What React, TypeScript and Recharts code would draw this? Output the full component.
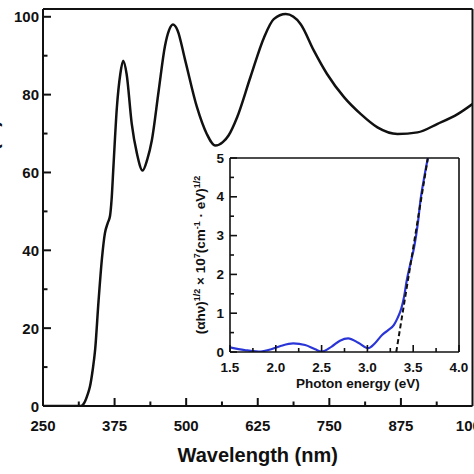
import React from 'react';
import { LineChart, Line, XAxis, YAxis, CartesianGrid } from 'recharts';

// main spectrum
const wavelength = [250, 300, 316, 322, 328, 332, 337, 341, 347, 353, 358, 363, 367, 370, 373, 379, 385, 390, 396, 405, 414, 424, 432, 440, 452, 463, 470, 477, 485, 498, 519, 536, 551, 564, 574, 589, 612, 636, 653, 674, 700, 723, 746, 776, 805, 834, 869, 904, 939, 974, 1000];
const transmittance = [0, 0, 0, 0.8, 3, 5, 9.5, 14.4, 27, 38, 44.3, 47, 48.8, 53.5, 61.5, 76.7, 85.3, 88.7, 85.3, 72.5, 64.9, 60.5, 63.3, 68.2, 81, 92.5, 96.5, 98, 96.5, 89, 76.7, 69.9, 66.9, 67.8, 69.5, 74.2, 84.4, 94.7, 99.4, 100.7, 98.1, 91.3, 85.3, 79.3, 75, 71.6, 69.9, 70.3, 72.5, 75, 77.6];
const wavelengthTicks = [250, 312.5, 375, 437.5, 500, 562.5, 625, 687.5, 750, 812.5, 875, 937.5, 1000];
const wavelengthLabels = [250, 375, 500, 625, 750, 875, 1000];
const transmittanceTicks = [0, 10, 20, 30, 40, 50, 60, 70, 80, 90, 100, 102];
const transmittanceLabels = [0, 20, 40, 60, 80, 100];

// inset (Tauc plot)
const photonEnergy = [1.5, 1.66, 1.81, 1.95, 2.06, 2.19, 2.32, 2.43, 2.5, 2.61, 2.7, 2.79, 2.9, 3.01, 3.08, 3.16, 3.23, 3.29, 3.33, 3.37, 3.4, 3.43, 3.47, 3.51, 3.55, 3.58, 3.62, 3.66];
const taucValue = [0.12, 0.05, 0.01, 0.07, 0.16, 0.22, 0.18, 0.07, 0.01, 0.14, 0.29, 0.35, 0.24, 0.1, 0.22, 0.44, 0.57, 0.7, 0.88, 1.12, 1.42, 1.85, 2.28, 2.7, 3.3, 3.92, 4.5, 5.0];
const fitEnergy = [3.315, 3.66];
const fitValue = [0, 5];
const energyTicks = [1.5, 1.75, 2, 2.25, 2.5, 2.75, 3, 3.25, 3.5, 3.75, 4];
const energyLabels = [1.5, 2, 2.5, 3, 3.5, 4];
const taucTicks = [0, 0.5, 1, 1.5, 2, 2.5, 3, 3.5, 4, 4.5, 5];
const taucLabels = [0, 1, 2, 3, 4, 5];

const spectrum = wavelength.map((w, i) => ({ w, t: transmittance[i] }));
const tauc = photonEnergy.map((e, i) => ({ e, v: taucValue[i] }));
const fit = fitEnergy.map((e, i) => ({ e, v: fitValue[i] }));

const FONT = '"Liberation Sans", Arial, sans-serif';
const INK = '#111';

// main plot box: margin top 9, y-axis width 43, right margin 1.5, x-axis height 68
const W = 474;
const MAIN_TOP = 9;
const MAIN_LEFT = 43;
const MAIN_RIGHT = 1.5;
const MAIN_XAXIS_H = 68;
const PLOT_W = W - MAIN_LEFT - MAIN_RIGHT;
const PLOT_H = W - MAIN_TOP - MAIN_XAXIS_H;

// top and right edges of a plot box
const topEdge = ({ offset }: any) => [offset.top];
const rightEdge = ({ offset }: any) => [offset.left + offset.width];

const MainXTick = (props: any) => {
  const { x, y, payload } = props;
  const major = wavelengthLabels.includes(payload.value);
  const last = payload.value === 1000;
  return (
    <g>
      {last
        ? <line x1={x} x2={x} y1={y} y2={y - PLOT_H} stroke={INK} strokeWidth={2} />
        : <line x1={x} x2={x} y1={y} y2={y - (major ? 8 : 4.5)} stroke={INK} strokeWidth={2} />}
      {major && (
        <text x={x} y={y + 25} textAnchor="middle" fontFamily={FONT} fontWeight="bold" fontSize={15} fill={INK}>
          {payload.value}
        </text>
      )}
    </g>
  );
};

const MainYTick = (props: any) => {
  const { x, y, payload } = props;
  if (payload.value === 102) {
    // top edge of the frame
    return <line x1={x} x2={x + PLOT_W} y1={y} y2={y} stroke={INK} strokeWidth={2} />;
  }
  const major = transmittanceLabels.includes(payload.value);
  return (
    <g>
      <line x1={x} x2={x + (major ? 8 : 4.5)} y1={y} y2={y} stroke={INK} strokeWidth={2} />
      {major && (
        <text x={x - 4} y={y + 5.5} textAnchor="end" fontFamily={FONT} fontWeight="bold" fontSize={15} fill={INK}>
          {payload.value}
        </text>
      )}
    </g>
  );
};

const InsetXTick = (props: any) => {
  const { x, y, payload } = props;
  const major = energyLabels.includes(payload.value);
  return (
    <g>
      <line x1={x} x2={x} y1={y} y2={y - (major ? 7 : 4)} stroke={INK} strokeWidth={1.6} />
      {major && (
        <text x={x} y={y + 19.5} textAnchor="middle" fontFamily={FONT} fontWeight="bold" fontSize={13.5} fill={INK}>
          {payload.value.toFixed(1)}
        </text>
      )}
    </g>
  );
};

const InsetYTick = (props: any) => {
  const { x, y, payload } = props;
  const major = taucLabels.includes(payload.value);
  return (
    <g>
      <line x1={x} x2={x + (major ? 7 : 4)} y1={y} y2={y} stroke={INK} strokeWidth={1.6} />
      {major && (
        <text x={x - 6} y={y + 4.5} textAnchor="end" fontFamily={FONT} fontWeight="bold" fontSize={13.5} fill={INK}>
          {payload.value}
        </text>
      )}
    </g>
  );
};

const Inset = () => (
  <LineChart width={290} height={245} margin={{ top: 8, right: 11, left: 0, bottom: 0 }}>
    <CartesianGrid stroke={INK} strokeWidth={1.6}
      horizontalCoordinatesGenerator={topEdge} verticalCoordinatesGenerator={rightEdge} />
    <XAxis
      dataKey="e" type="number" domain={[1.5, 4]} allowDataOverflow
      ticks={energyTicks} interval={0} height={43}
      tickSize={0} tickMargin={0} tickLine={false}
      axisLine={{ stroke: INK, strokeWidth: 1.6 }}
      tick={<InsetXTick />}
      label={(p: any) => (
        <text x={p.viewBox.x + p.viewBox.width / 2 + 13.5} y={p.viewBox.y + 36} textAnchor="middle"
          fontFamily={FONT} fontWeight="bold" fontSize={13.5} fill={INK}>
          Photon energy (eV)
        </text>
      )}
    />
    <YAxis
      type="number" domain={[0, 5]} allowDataOverflow
      ticks={taucTicks} interval={0} width={50}
      tickSize={0} tickMargin={0} tickLine={false}
      axisLine={{ stroke: INK, strokeWidth: 1.6 }}
      tick={<InsetYTick />}
      label={(p: any) => {
        const cx = p.viewBox.x + 25;
        const cy = p.viewBox.y + p.viewBox.height / 2;
        return (
          <text x={cx} y={cy} transform={`rotate(-90, ${cx}, ${cy})`} textAnchor="middle"
            fontFamily={FONT} fontWeight="bold" fontSize={13.5} fill={INK}>
            (αhν)<tspan dy={-5} fontSize={9}>1/2</tspan>
            <tspan dy={5}> × 10</tspan><tspan dy={-5} fontSize={9}>7</tspan>
            <tspan dy={5}>(cm</tspan><tspan dy={-5} fontSize={9}>-1</tspan>
            <tspan dy={5}> · eV)</tspan><tspan dy={-5} fontSize={9}>1/2</tspan>
          </text>
        );
      }}
    />
    <Line data={tauc} dataKey="v" type="monotone" stroke="#2a35d8" strokeWidth={2.2} dot={false} isAnimationActive={false} />
    <Line data={fit} dataKey="v" type="linear" stroke={INK} strokeWidth={2} strokeDasharray="5 3" dot={false} isAnimationActive={false} />
  </LineChart>
);

export default function App() {
  return (
    <div style={{ position: 'relative', width: W, height: W, background: '#fff', overflow: 'hidden' }}>
      <style>{'html, body { margin: 0; padding: 0; }'}</style>
      <LineChart width={W} height={W} data={spectrum}
        margin={{ top: MAIN_TOP, right: MAIN_RIGHT, left: 0, bottom: 0 }}>
        <XAxis
          dataKey="w" type="number" domain={[250, 1000]} allowDataOverflow
          ticks={wavelengthTicks} interval={0} height={MAIN_XAXIS_H}
          tickSize={0} tickMargin={0} tickLine={false}
          axisLine={{ stroke: INK, strokeWidth: 2 }}
          tick={<MainXTick />}
          label={(p: any) => (
            <text x={p.viewBox.x + p.viewBox.width / 2} y={p.viewBox.y + 56} textAnchor="middle"
              fontFamily={FONT} fontWeight="bold" fontSize={20} fill={INK}>
              Wavelength (nm)
            </text>
          )}
        />
        <YAxis
          type="number" domain={[0, 102]} allowDataOverflow
          ticks={transmittanceTicks} interval={0} width={MAIN_LEFT}
          tickSize={0} tickMargin={0} tickLine={false}
          axisLine={{ stroke: INK, strokeWidth: 2 }}
          tick={<MainYTick />}
          label={(p: any) => (
            <text x={-2} y={p.viewBox.y + 111} transform={`rotate(-90, -2, ${p.viewBox.y + 111})`} textAnchor="end"
              fontFamily={FONT} fontWeight="bold" fontSize={20} fill={INK}>
              Transmittance (%)
            </text>
          )}
        />
        <Line dataKey="t" type="monotone" stroke={INK} strokeWidth={2.5} dot={false} isAnimationActive={false} />
      </LineChart>
      <div style={{ position: 'absolute', left: 180, top: 150 }}>
        <Inset />
      </div>
    </div>
  );
}
